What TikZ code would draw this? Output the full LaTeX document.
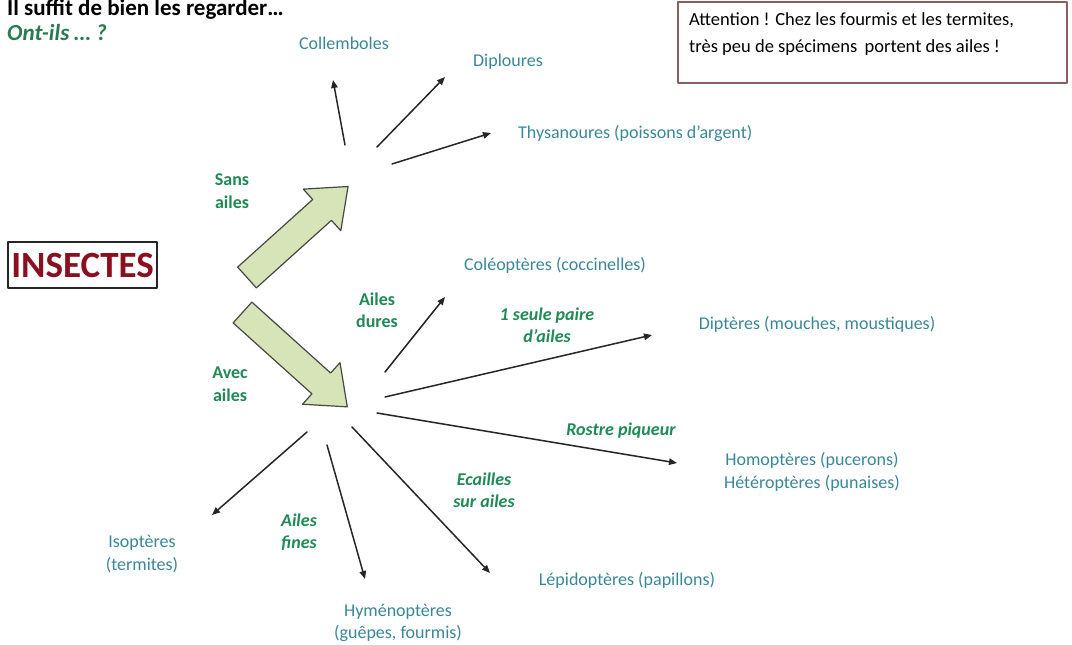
\documentclass[tikz,border=0pt]{standalone}
\usepackage{fontspec}
\setmainfont{Carlito}
\usetikzlibrary{arrows.meta}
\definecolor{insTeal}{HTML}{3A8799}
\definecolor{insGreen}{HTML}{1F8A55}
\definecolor{insDarkGreen}{HTML}{2A7A52}
\definecolor{insRed}{HTML}{8B0F1E}
\definecolor{insFrame}{HTML}{8E5E5E}
\definecolor{insLeaf}{HTML}{D6E4B8}
\definecolor{insInk}{HTML}{262626}
\begin{document}
\begin{tikzpicture}[x=1pt,y=-1pt,>=Latex,line cap=round,line join=round]
\useasboundingbox (0,0) rectangle (1072,645);
\path[fill=white] (0,0) rectangle (1072,645);
\tikzset{taxon/.style={text=insTeal,font=\fontsize{18}{22.5}\selectfont,align=center,inner sep=1pt},crit/.style={text=insGreen,font=\fontsize{18}{22.5}\selectfont\bfseries,align=center,inner sep=1pt},critit/.style={crit,font=\fontsize{18}{22.5}\selectfont\bfseries\itshape},branch/.style={draw=insInk,line width=1.5pt,-{Triangle[length=8pt,width=6.5pt]}},bigarrow/.style={draw=insInk!85,fill=insLeaf,line width=1.2pt}}
% titre et remarque
\node[anchor=base west,font=\fontsize{23}{25}\selectfont\bfseries,inner sep=0pt] (title) at (7,16) {Il suffit de bien les regarder…};
\node[anchor=base west,font=\fontsize{23}{25}\selectfont\bfseries\itshape,text=insDarkGreen,inner sep=0pt] (question) at (7,41) {Ont-ils … ?};
\draw[insFrame,line width=1.5pt] (678,2) rectangle (1067,83);
\node[anchor=north west,align=left,font=\fontsize{18.5}{27}\selectfont,inner sep=0pt] (warn) at (689,12) {Attention ! Chez les fourmis et les termites,\\très peu de spécimens\, portent des ailes !};
\node[draw=insInk,line width=1.5pt,minimum width=149pt,minimum height=46pt,text=insRed,font=\fontsize{37}{40}\selectfont\bfseries] (insectes) at (82.5,265) {INSECTES};
% grosses fleches
\draw[bigarrow,shift={(247,277.5)},rotate=42] (0,-14) -- (101,-14) -- (101,-28) -- (136,0) -- (101,28) -- (101,14) -- (0,14) -- cycle;
\draw[bigarrow,shift={(242.5,312.5)},rotate=-42] (0,-14) -- (106,-14) -- (106,-28) -- (141,0) -- (106,28) -- (106,14) -- (0,14) -- cycle;
\node[crit] (sans) at (232,191) {Sans\\ailes}; \node[crit] (avec) at (230,384) {Avec\\ailes};
% sans ailes
\node[taxon] (coll) at (344,43) {Collemboles}; \node[taxon] (diplo) at (508,62) {Diploures};
\node[taxon,anchor=west] (thysa) at (517,133) {Thysanoures (poissons d’argent)};
\coordinate (collA) at (345,145); \coordinate (collB) at (333,80);
\coordinate (diploA) at (377,147); \coordinate (diploB) at (445,77);
\coordinate (thysaA) at (392,164); \coordinate (thysaB) at (491,133);
\draw[branch] (collA) -- (collB); \draw[branch] (diploA) -- (diploB); \draw[branch] (thysaA) -- (thysaB);
% avec ailes
\node[taxon] (coleo) at (555,265) {Coléoptères (coccinelles)};
\node[taxon] (dipt) at (817,324) {Diptères (mouches, moustiques)};
\node[taxon] (homo) at (812,472) {Homoptères (pucerons)\\Hétéroptères (punaises)};
\node[taxon] (iso) at (142,554) {Isoptères\\(termites)};
\node[taxon] (hymen) at (398,623) {Hyménoptères\\(guêpes, fourmis)};
\node[taxon] (lepi) at (627,580) {Lépidoptères (papillons)};
\node[crit] (dures) at (377,310) {Ailes\\dures};
\node[critit] (paire) at (547,325) {1 seule paire\\d’ailes};
\node[critit] (rostre) at (621,431) {Rostre piqueur};
\node[critit] (ecailles) at (484,490) {Ecailles\\sur ailes};
\node[critit] (fines) at (299,532) {Ailes\\fines};
\coordinate (coleoA) at (385,372); \coordinate (coleoB) at (445,297);
\coordinate (diptA) at (385,397); \coordinate (diptB) at (652,335);
\coordinate (homoA) at (377,413); \coordinate (homoB) at (677,463);
\coordinate (isoA) at (307,432); \coordinate (isoB) at (212,515);
\coordinate (hymenA) at (327,445); \coordinate (hymenB) at (365,579);
\coordinate (lepiA) at (352,427); \coordinate (lepiB) at (490,573);
\draw[branch] (coleoA) -- (coleoB); \draw[branch] (diptA) -- (diptB); \draw[branch] (homoA) -- (homoB);
\draw[branch] (isoA) -- (isoB); \draw[branch] (hymenA) -- (hymenB); \draw[branch] (lepiA) -- (lepiB);
\end{tikzpicture}
\end{document}
